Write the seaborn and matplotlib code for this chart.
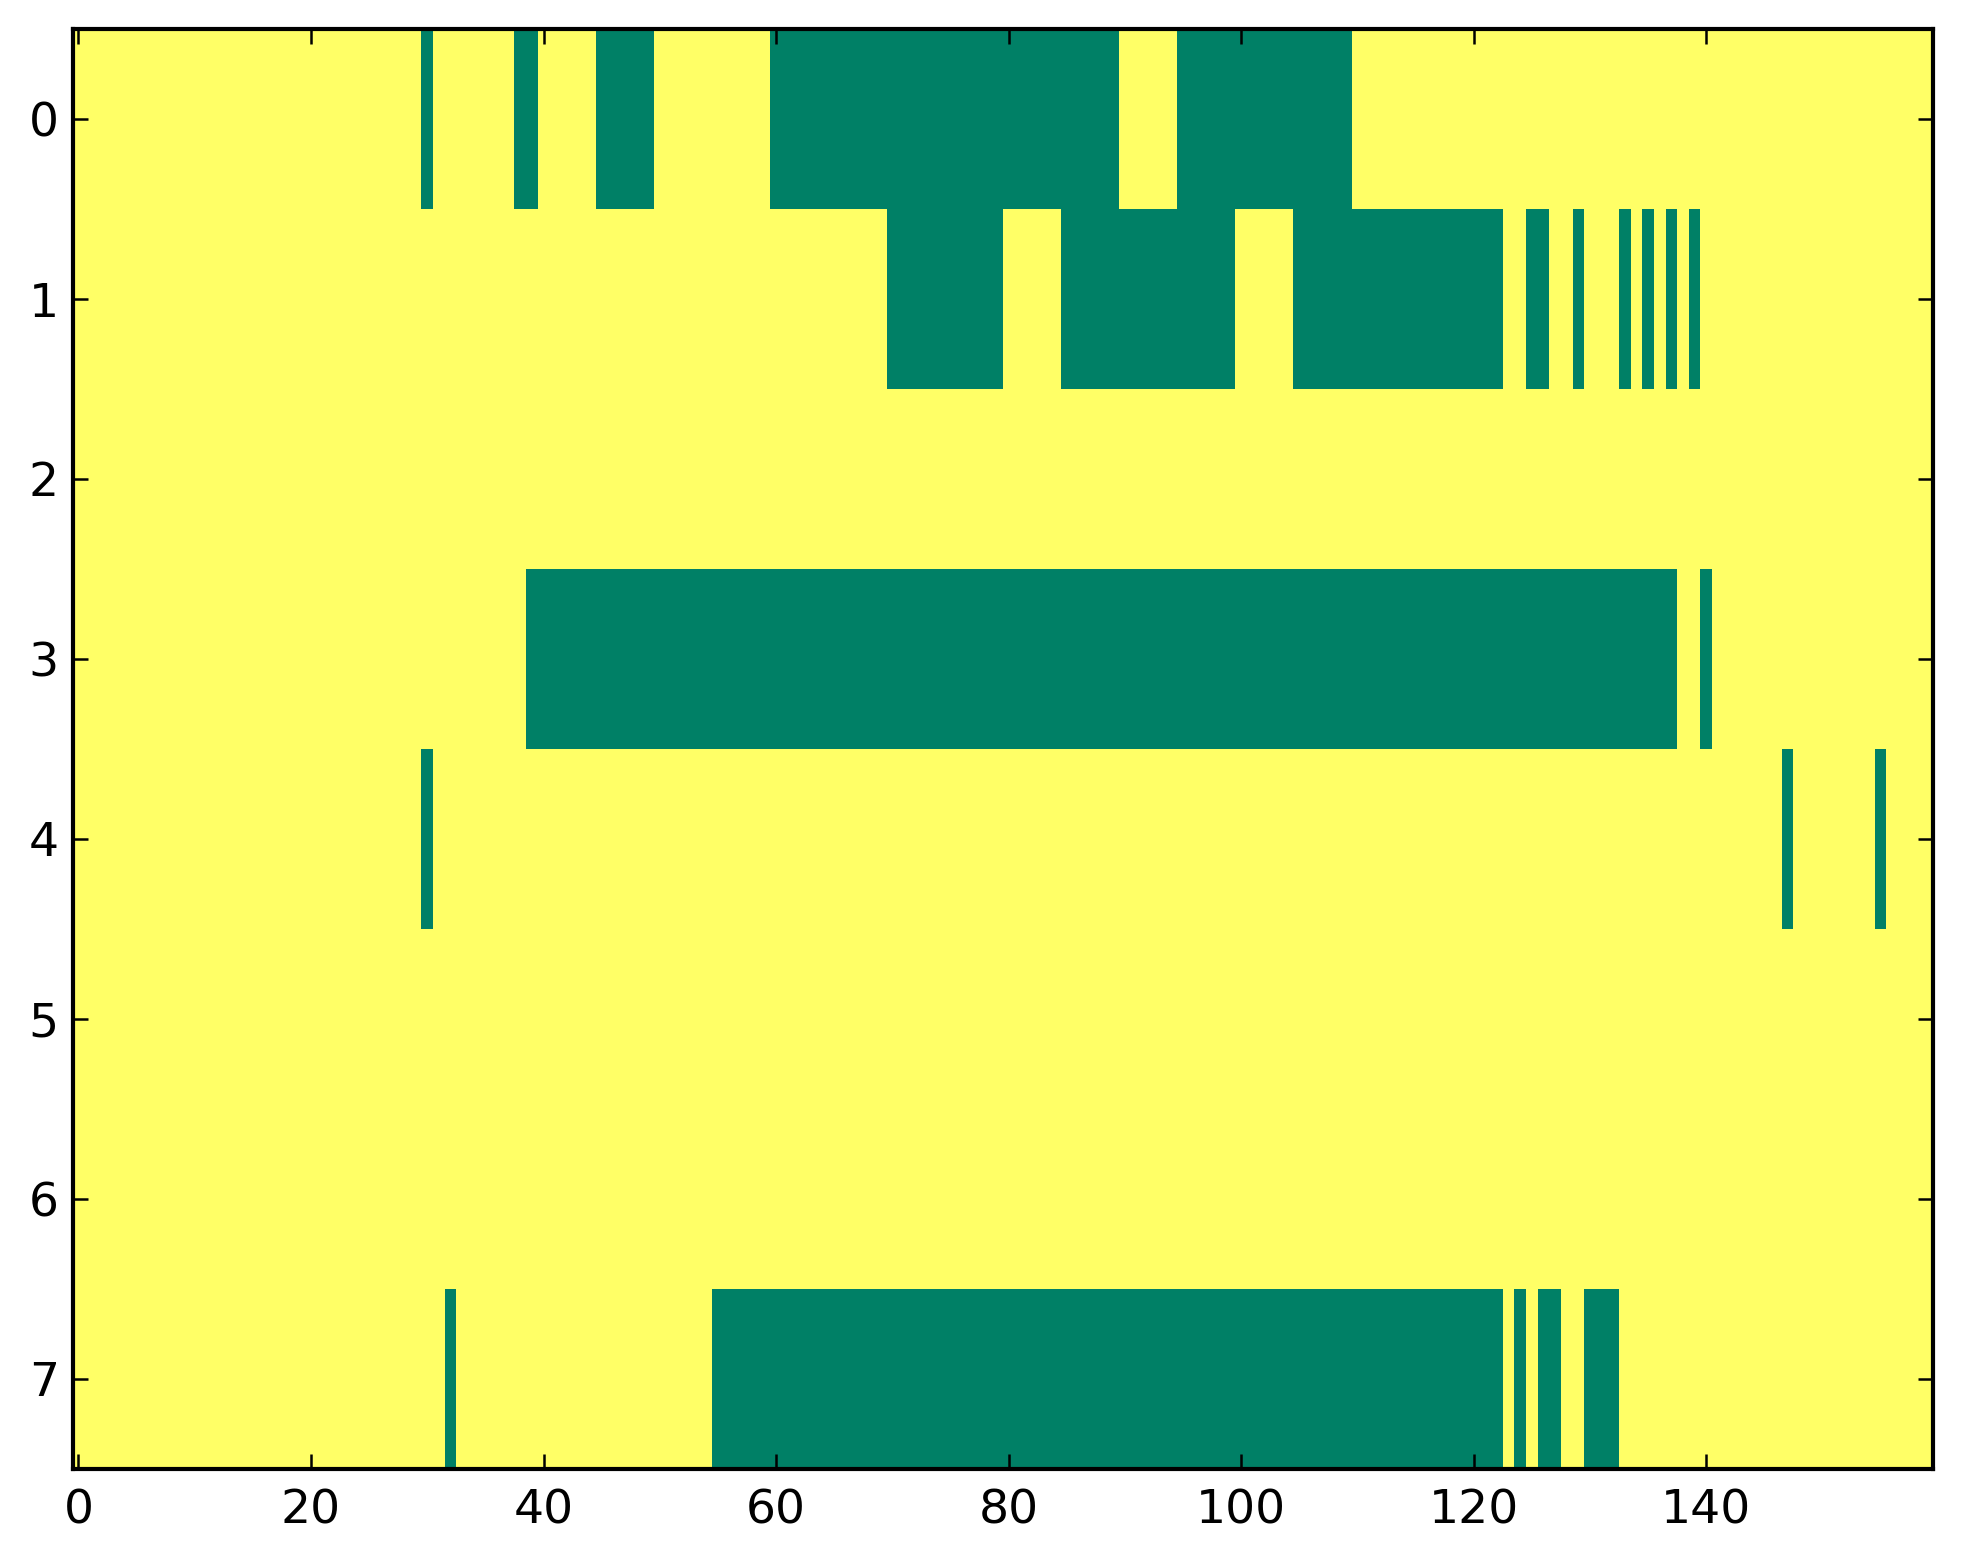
import numpy as np
import pandas as pd
import matplotlib
matplotlib.use("Agg")
import matplotlib.pyplot as plt
import seaborn as sns

n_rows = 8
n_cols = 160

# green (value 0) column spans per row, inclusive; the rest is 1 (yellow)
row0_zero = [(30, 30), (38, 39), (45, 49), (60, 89), (95, 109)]
row1_zero = [(70, 79), (85, 99), (105, 122), (125, 126), (129, 129),
             (133, 133), (135, 135), (137, 137), (139, 139)]
row2_zero = []
row3_zero = [(39, 137), (140, 140)]
row4_zero = [(30, 30), (147, 147), (155, 155)]
row5_zero = []
row6_zero = []
row7_zero = [(32, 32), (55, 122), (124, 124), (126, 127), (130, 132)]

zero_spans = [row0_zero, row1_zero, row2_zero, row3_zero,
              row4_zero, row5_zero, row6_zero, row7_zero]

xtick_vals = [0, 20, 40, 60, 80, 100, 120, 140]
ytick_vals = [0, 1, 2, 3, 4, 5, 6, 7]

data = np.ones((n_rows, n_cols))
for r, spans in enumerate(zero_spans):
    for a, b in spans:
        data[r, a:b + 1] = 0
df = pd.DataFrame(data)

sns.set_theme(style="ticks")
plt.rcParams['font.family'] = ['DejaVu Sans']
plt.rcParams['axes.axisbelow'] = False

fig = plt.figure(figsize=(9.815, 7.82), dpi=200)
ax = fig.add_axes([0.0370, 0.0609, 0.9477, 0.9205])
sns.heatmap(df, ax=ax, cmap="summer", vmin=0, vmax=1, cbar=False,
            xticklabels=False, yticklabels=False)
ax.set_axisbelow(False)

ax.set_xticks([v + 0.5 for v in xtick_vals])
ax.set_xticklabels([str(v) for v in xtick_vals])
ax.set_yticks([v + 0.5 for v in ytick_vals])
ax.set_yticklabels([str(v) for v in ytick_vals], rotation=0)
ax.set_xlabel("")
ax.set_ylabel("")

for s in ax.spines.values():
    s.set_visible(True)
    s.set_color("black")
    s.set_linewidth(1.5)
    s.set_zorder(5)

ax.tick_params(axis="both", which="major", direction="in", length=5.5,
               width=0.9, color="black", labelsize=17, labelcolor="black",
               top=True, right=True, bottom=True, left=True)
ax.tick_params(axis="x", pad=7)
ax.tick_params(axis="y", pad=5)

fig.savefig("out.png", dpi=200)
